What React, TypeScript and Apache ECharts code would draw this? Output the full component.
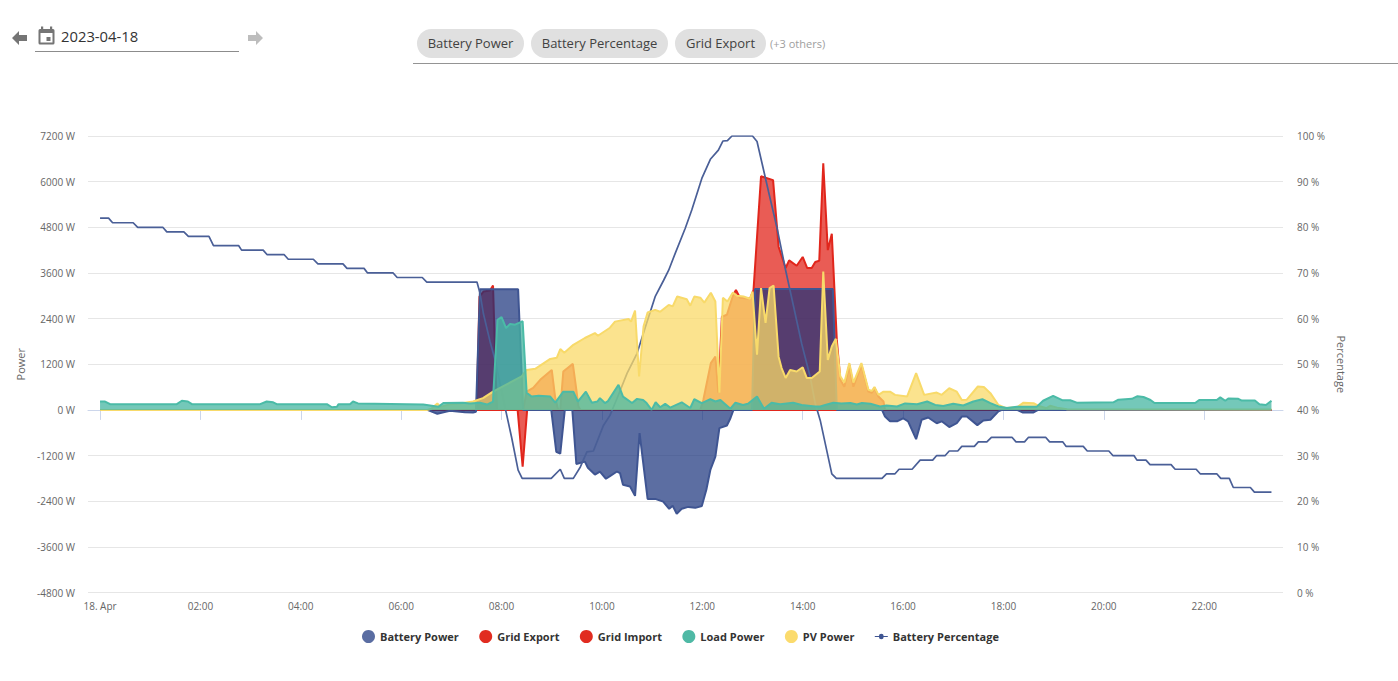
import React, { useEffect, useRef } from "react";
import * as echarts from "echarts";

type Pt = [number, number];

const dateLabel = "2023-04-18";
const chipLabels = ["Battery Power", "Battery Percentage", "Grid Export"];
const othersLabel = "(+3 others)";
const xTicks = [0, 2, 4, 6, 8, 10, 12, 14, 16, 18, 20, 22];

const batteryPower: Pt[] = [[0,0],[6.52,0],[6.72,-100],[6.97,-20],[7.27,-60],[7.43,-70],[7.49,-50],[7.57,3170],[8.33,3170],[8.43,0],[8.99,0],[9.09,-1100],[9.17,-1150],[9.26,0],[9.41,0],[9.49,-1420],[9.66,-1360],[9.72,-1520],[9.86,-1700],[9.96,-1620],[10.08,-1810],[10.16,-1740],[10.3,-1620],[10.36,-1660],[10.42,-1970],[10.56,-2015],[10.66,-2260],[10.75,-610],[10.91,-2340],[11.06,-2340],[11.22,-2410],[11.34,-2600],[11.41,-2520],[11.49,-2730],[11.59,-2600],[11.72,-2550],[11.86,-2575],[11.99,-2525],[12.08,-2100],[12.16,-1580],[12.26,-1230],[12.34,-480],[12.49,-410],[12.56,-220],[12.62,0],[12.99,0],[13.05,3180],[14.6,3180],[14.68,0],[15.58,0],[15.64,-175],[15.74,-300],[15.88,-300],[16,-220],[16.1,-300],[16.26,-770],[16.37,-260],[16.5,-200],[16.67,-350],[16.77,-300],[16.92,-450],[17.07,-350],[17.17,-175],[17.27,-175],[17.48,-400],[17.6,-280],[17.74,-260],[17.9,-40],[17.97,0],[18.27,0],[18.39,-70],[18.59,-70],[18.69,0],[23.34,0]];

const gridExport: Pt[] = [[0,0],[8.32,0],[8.42,-1490],[8.51,0],[23.34,0]];

const gridImport: Pt[] = [[0,0],[7.49,0],[7.51,310],[7.56,2980],[7.64,3110],[7.77,3140],[7.83,3270],[7.88,1050],[7.91,0],[8.43,0],[8.5,480],[8.63,580],[8.77,790],[9,1050],[9.07,310],[9.13,0],[9.17,0],[9.23,1010],[9.42,1210],[9.49,530],[9.53,100],[9.57,0],[11.96,0],[12.02,260],[12.17,1230],[12.26,1400],[12.32,450],[12.39,2450],[12.49,2500],[12.61,3000],[12.67,3150],[12.75,2950],[12.95,2920],[13.02,3150],[13.17,6140],[13.41,6040],[13.52,4290],[13.66,3730],[13.73,3930],[13.88,3790],[14,4020],[14.09,3730],[14.18,3730],[14.25,3890],[14.33,3920],[14.41,6480],[14.5,4200],[14.58,4630],[14.68,1840],[14.75,790],[14.83,610],[14.93,1180],[15.01,610],[15.17,1180],[15.31,480],[15.38,450],[15.43,580],[15.51,350],[15.61,220],[15.64,0],[23.34,0]];

const loadPower: Pt[] = [[0,220],[0.1,220],[0.2,150],[1.53,150],[1.63,240],[1.75,220],[1.83,150],[3.19,150],[3.32,220],[3.45,200],[3.52,150],[4.52,150],[4.62,70],[4.72,80],[4.75,150],[4.98,150],[5.04,220],[5.14,170],[6.44,140],[6.61,110],[6.74,80],[6.84,180],[7.23,190],[7.37,170],[7.57,190],[7.71,140],[7.83,220],[7.84,520],[7.92,2370],[8,2440],[8.09,2150],[8.17,2260],[8.27,2240],[8.37,2300],[8.42,2330],[8.5,450],[8.6,350],[8.74,370],[8.97,350],[9.07,190],[9.23,480],[9.43,480],[9.52,220],[9.68,480],[9.8,190],[9.91,220],[9.96,310],[10.06,180],[10.12,230],[10.33,660],[10.42,350],[10.6,180],[10.7,290],[10.82,260],[10.89,180],[10.99,0],[11.07,200],[11.16,70],[11.26,160],[11.36,60],[11.59,200],[11.76,50],[11.84,280],[11.99,180],[12.16,280],[12.26,220],[12.36,260],[12.56,30],[12.66,190],[12.81,130],[12.91,160],[13.09,350],[13.23,30],[13.38,190],[13.55,150],[13.81,190],[13.98,130],[14.25,90],[14.35,90],[14.45,130],[14.61,190],[14.77,170],[14.95,180],[15.08,140],[15.18,180],[15.35,160],[15.54,90],[15.67,115],[15.88,90],[16.04,170],[16.28,150],[16.48,220],[16.64,130],[16.8,100],[17,160],[17.2,115],[17.4,220],[17.58,280],[17.74,180],[17.9,90],[18.07,50],[18.27,80],[18.66,80],[18.79,240],[18.99,370],[19.17,255],[19.33,255],[19.46,190],[20.19,200],[20.29,270],[20.56,290],[20.67,360],[20.79,340],[20.93,260],[21.01,180],[21.82,180],[21.9,260],[22.25,260],[22.32,330],[22.42,240],[22.48,300],[22.68,290],[22.75,245],[23.01,245],[23.1,150],[23.23,130],[23.34,240]];

const pvPower: Pt[] = [[0,0],[6.52,0],[6.6,30],[6.72,170],[6.78,80],[6.97,150],[7.17,170],[7.43,220],[7.63,310],[7.83,480],[8.4,880],[8.5,1050],[8.67,1080],[8.97,1340],[9.1,1370],[9.17,1600],[9.25,1500],[9.43,1710],[9.66,1890],[9.86,2020],[9.92,1950],[10.16,2160],[10.26,2320],[10.53,2390],[10.58,2320],[10.66,2610],[10.74,880],[10.83,2200],[10.91,2560],[11.06,2630],[11.16,2580],[11.33,2760],[11.41,2720],[11.5,2980],[11.69,2910],[11.76,2740],[11.84,2980],[11.96,2950],[12.04,2820],[12.17,3080],[12.26,2850],[12.34,450],[12.41,2950],[12.5,2850],[12.61,3085],[12.69,3000],[12.82,2980],[12.95,2920],[13,3110],[13.09,1450],[13.17,3200],[13.26,2290],[13.34,3200],[13.42,3270],[13.52,1400],[13.58,1100],[13.66,840],[13.75,1050],[13.88,1010],[14,1120],[14.08,840],[14.18,840],[14.34,1010],[14.41,3640],[14.5,1310],[14.58,1665],[14.66,1870],[14.75,880],[14.83,720],[14.93,1230],[15.01,720],[15.17,1230],[15.31,530],[15.38,500],[15.43,600],[15.51,395],[15.61,480],[15.74,480],[15.84,395],[16.08,350],[16.26,965],[16.42,395],[16.67,455],[16.77,395],[16.92,570],[17.07,480],[17.17,260],[17.27,270],[17.49,615],[17.61,600],[17.74,440],[17.9,130],[18.04,50],[18.27,70],[18.4,190],[18.6,175],[18.69,110],[18.86,45],[18.93,110],[19.07,60],[19.27,20],[23.34,10]];

const batteryPercentage: Pt[] = [[0,82],[0.17,82],[0.25,81],[0.66,81],[0.75,80],[1.25,80],[1.33,79],[1.67,79],[1.76,78],[2.17,78],[2.26,76],[2.76,76],[2.82,75],[3.25,75],[3.33,74],[3.67,74],[3.75,73],[4.25,73],[4.34,72],[4.84,72],[4.92,71],[5.26,71],[5.33,70],[5.84,70],[5.92,69],[6.42,69],[6.51,68],[7.51,68],[7.57,65.6],[7.64,61],[7.77,55],[7.87,51],[8.08,40],[8.2,34],[8.33,26.8],[8.41,25],[8.99,25],[9.17,27],[9.25,25],[9.43,25],[9.57,27.5],[9.7,30.8],[9.83,31],[10.03,36.6],[10.16,38.8],[10.3,42.5],[10.5,48],[10.7,52.4],[10.89,59],[11.06,64.8],[11.23,68.4],[11.33,70.6],[11.46,74.3],[11.66,79.8],[11.79,83.8],[11.99,90.7],[12.16,94.9],[12.32,96.9],[12.41,98.9],[12.5,99],[12.59,100],[13,100],[13.09,98.8],[13.32,87.8],[13.49,79.8],[13.66,70.6],[13.82,62.6],[13.98,54.5],[14.15,47.2],[14.25,41.4],[14.35,37.7],[14.58,26],[14.67,25],[15.58,25],[15.67,26],[15.84,26],[15.92,27],[16.18,27],[16.34,29],[16.59,29],[16.67,30],[16.84,30],[16.92,31],[17.09,31],[17.17,32],[17.42,32],[17.5,33],[17.67,33],[17.76,34],[18.17,34],[18.25,33],[18.42,33],[18.5,34],[18.84,34],[18.92,33],[19.18,33],[19.25,32],[19.59,32],[19.67,31],[20.1,31],[20.18,30],[20.6,30],[20.66,29],[20.84,29],[20.92,28],[21.34,28],[21.42,27],[21.84,27],[21.92,26],[22.25,26],[22.33,25],[22.5,25],[22.58,23],[22.92,23],[23,22],[23.34,22]];

const FONT = '"Open Sans", sans-serif';
const LINE_DOT_ICON =
  "path://M0 4.4H5.1A2.6 2.6 0 0 1 10.9 4.4H16V5.6H10.9A2.6 2.6 0 0 1 5.1 5.6H0Z";

const area = (name: string, data: Pt[], line: string, fill: string, dot: string, z: number, lw = 2) => ({
  name,
  type: "line",
  data,
  z,
  yAxisIndex: 0,
  symbol: "none",
  showSymbol: false,
  itemStyle: { color: dot },
  lineStyle: { color: line, width: lw },
  areaStyle: { color: fill, origin: 0, opacity: 1 },
});

function headerGraphics(): any[] {
  const arrow = (x: number, y: number, dir: number, fill: string) => ({
    type: "polygon",
    shape: {
      points: [
        [x, y],
        [x + dir * 7, y - 7],
        [x + dir * 7, y - 3],
        [x + dir * 15, y - 3],
        [x + dir * 15, y + 3],
        [x + dir * 7, y + 3],
        [x + dir * 7, y + 7],
      ],
    },
    style: { fill },
  });
  const chips = [
    { x: 417, w: 107 },
    { x: 531, w: 137 },
    { x: 675, w: 91 },
  ];
  return [
    arrow(12, 38, 1, "#757575"),
    arrow(263, 38, -1, "#bdbdbd"),
    { type: "rect", shape: { x: 38.5, y: 29, width: 16, height: 15.5, r: 1.5 }, style: { fill: "#757575" } },
    { type: "rect", shape: { x: 41, y: 26.5, width: 2.2, height: 4 }, style: { fill: "#757575" } },
    { type: "rect", shape: { x: 50, y: 26.5, width: 2.2, height: 4 }, style: { fill: "#757575" } },
    { type: "rect", shape: { x: 40.5, y: 33, width: 12, height: 9.5 }, style: { fill: "#ffffff" } },
    { type: "rect", shape: { x: 46.5, y: 37, width: 4, height: 4 }, style: { fill: "#757575" } },
    { type: "text", x: 61, y: 36, style: { text: dateLabel, font: `14.8px ${FONT}`, fill: "#333333", textVerticalAlign: "middle" } },
    { type: "line", shape: { x1: 35, y1: 51.5, x2: 239, y2: 51.5 }, style: { stroke: "#8c8c8c", lineWidth: 1 } },
    ...chips.flatMap((c, i) => [
      { type: "rect", shape: { x: c.x, y: 29, width: c.w, height: 29, r: 14.5 }, style: { fill: "#e0e0e0" } },
      {
        type: "text",
        x: c.x + c.w / 2,
        y: 43,
        style: { text: chipLabels[i], font: `13px ${FONT}`, fill: "#424242", textAlign: "center", textVerticalAlign: "middle" },
      },
    ]),
    { type: "text", x: 770, y: 43, style: { text: othersLabel, font: `11px ${FONT}`, fill: "#9e9e9e", textVerticalAlign: "middle" } },
    { type: "line", shape: { x1: 413, y1: 63.5, x2: 1398, y2: 63.5 }, style: { stroke: "#949494", lineWidth: 1 } },
  ];
}

export default function App() {
  const ref = useRef<HTMLDivElement>(null);
  useEffect(() => {
    const chart = echarts.init(ref.current!, undefined, { renderer: "svg" });
    const axisText = { color: "#666666", fontSize: 10, fontFamily: FONT };
    chart.setOption({
      animation: false,
      textStyle: { fontFamily: FONT },
      grid: { left: 88, top: 136, width: 1195, height: 456.5, containLabel: false },
      legend: {
        left: 357,
        top: 625,
        itemWidth: 13,
        itemHeight: 13,
        itemGap: 20.4,
        textStyle: { color: "#333333", fontSize: 11, fontWeight: "bold", fontFamily: FONT },
        data: [
          { name: "Battery Power", icon: "circle", itemStyle: { color: "#5a6da2" } },
          { name: "Grid Export", icon: "circle", itemStyle: { color: "#e12c20" } },
          { name: "Grid Import", icon: "circle", itemStyle: { color: "#e12c20" } },
          { name: "Load Power", icon: "circle", itemStyle: { color: "#4fb9a5" } },
          { name: "PV Power", icon: "circle", itemStyle: { color: "#fbdb6d" } },
          { name: "Battery Percentage", icon: LINE_DOT_ICON, itemStyle: { color: "#3f5592" } },
        ],
      },
      xAxis: {
        type: "value",
        min: -0.24,
        max: 23.57,
        splitLine: { show: false },
        axisLine: { lineStyle: { color: "#ccd6eb" } },
        axisTick: { show: true, length: 10, lineStyle: { color: "#ccd6eb" }, customValues: xTicks },
        axisLabel: {
          ...axisText,
          margin: 8,
          customValues: xTicks,
          formatter: (v: number) => (v === 0 ? "18. Apr" : `${String(v).padStart(2, "0")}:00`),
        },
      },
      yAxis: [
        {
          type: "value",
          min: -4800,
          max: 7200,
          interval: 1200,
          name: "Power",
          nameLocation: "middle",
          nameGap: 61,
          nameRotate: 90,
          nameTextStyle: { color: "#666666", fontSize: 11, fontFamily: FONT },
          axisLine: { show: false },
          axisTick: { show: false },
          splitLine: { lineStyle: { color: "#e6e6e6" } },
          axisLabel: { ...axisText, margin: 13, padding: [0, 0, 2, 0], formatter: (v: number) => `${v} W` },
        },
        {
          type: "value",
          position: "right",
          min: 0,
          max: 100,
          interval: 10,
          name: "Percentage",
          nameLocation: "middle",
          nameGap: 49,
          nameRotate: -90,
          nameTextStyle: { color: "#666666", fontSize: 11, fontFamily: FONT },
          axisLine: { show: false },
          axisTick: { show: false },
          splitLine: { show: false },
          axisLabel: { ...axisText, margin: 14, padding: [0, 0, 2, 0], formatter: "{value} %" },
        },
      ],
      series: [
        area("Battery Power", batteryPower, "#3f5592", "rgba(23,49,123,0.7)", "#5a6da2", 3),
        area("Grid Export", gridExport, "#e1261c", "rgba(225,38,28,0.75)", "#e12c20", 2),
        area("Grid Import", gridImport, "#e1261c", "rgba(225,38,28,0.75)", "#e12c20", 2),
        area("Load Power", loadPower, "#4bbba7", "rgba(69,181,161,0.75)", "#4fb9a5", 6),
        area("PV Power", pvPower, "#f8da6a", "rgba(249,217,104,0.75)", "#fbdb6d", 5),
        {
          name: "Battery Percentage",
          type: "line",
          yAxisIndex: 1,
          data: batteryPercentage,
          z: 4,
          symbol: "none",
          showSymbol: false,
          itemStyle: { color: "#3f5592" },
          lineStyle: { color: "#4a5f97", width: 1.7 },
        },
      ],
      graphic: headerGraphics(),
    });
    return () => chart.dispose();
  }, []);
  return <div ref={ref} style={{ position: "absolute", left: 0, top: 0, width: 1398, height: 681 }} />;
}
